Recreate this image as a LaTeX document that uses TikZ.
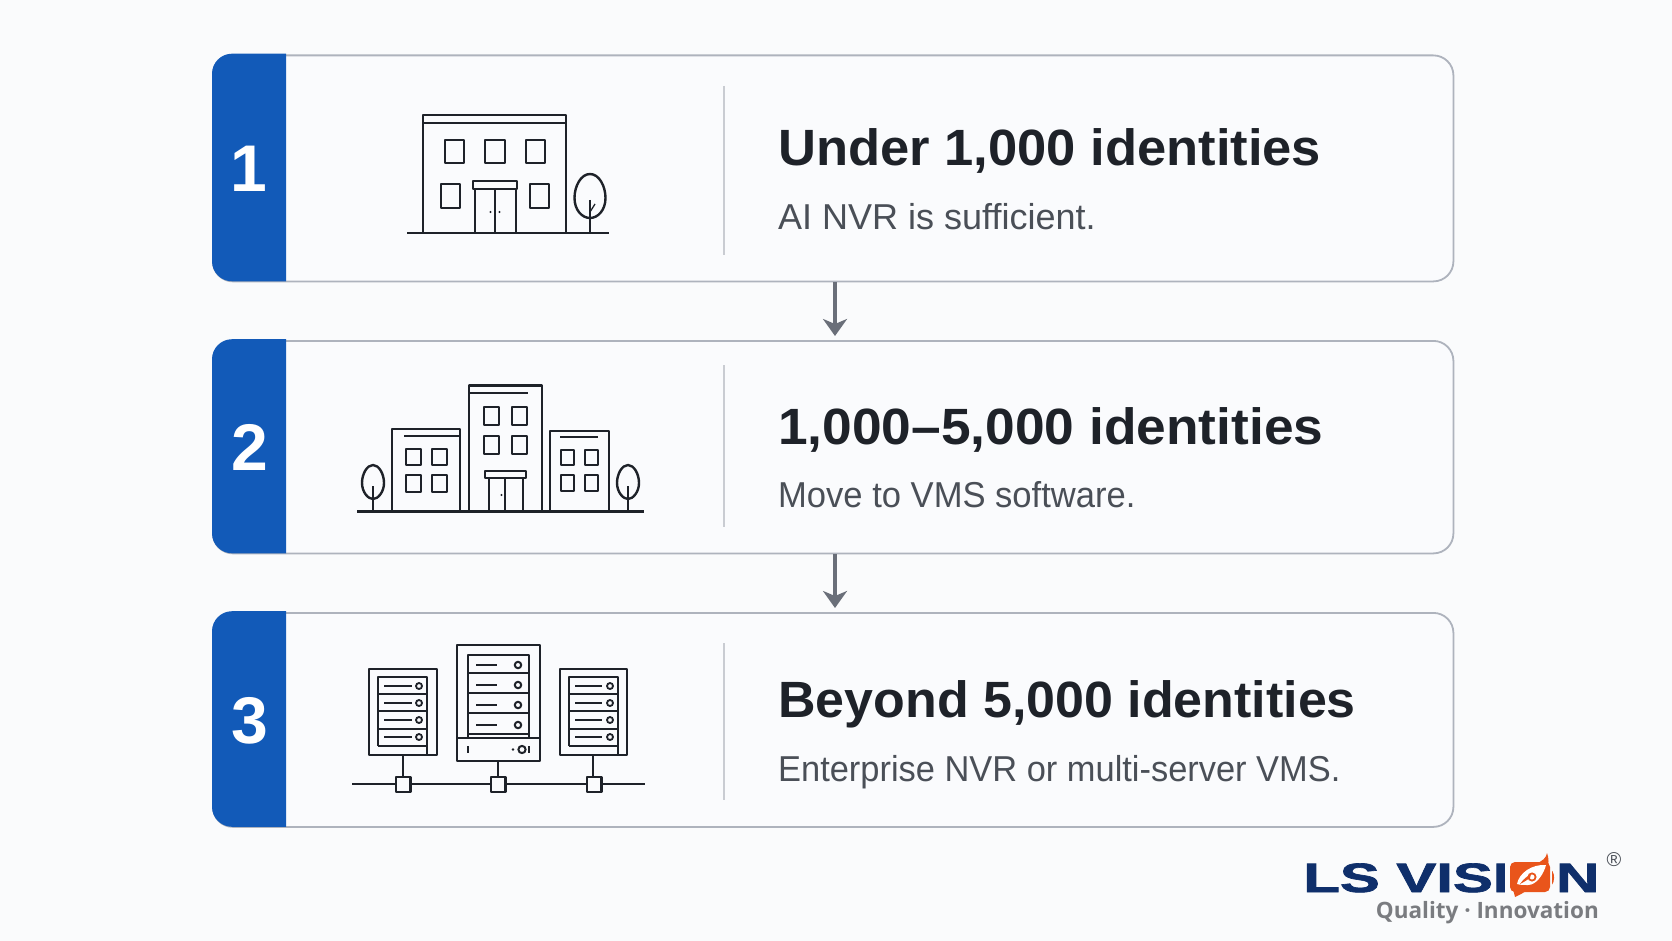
\documentclass[tikz,border=0pt]{standalone}
\usepackage{fontspec}
\setmainfont{Liberation Sans}
\newfontfamily\logofont[BoldFeatures={FakeBold=1.6}]{Liberation Sans}
\newfontfamily\tagfont{Open Sans}
\usetikzlibrary{arrows.meta,calc}
\definecolor{bgc}{HTML}{FAFBFC}
\definecolor{cardc}{HTML}{FAFBFD}
\definecolor{edgec}{HTML}{AEB3BD}
\definecolor{bluec}{HTML}{125AB8}
\definecolor{inkc}{HTML}{1E2229}
\definecolor{subc}{HTML}{4A4F57}
\definecolor{divc}{HTML}{C9CCD2}
\definecolor{arrowc}{HTML}{6A6F79}
\definecolor{navyc}{HTML}{0F2F6B}
\definecolor{orangec}{HTML}{E9551B}
\definecolor{greyc}{HTML}{7A7C80}
\tikzset{
  x=1pt,y=-1pt,
  card/.style={draw=edgec,line width=1.8pt,fill=cardc,rounded corners=20pt,minimum width=1240.5pt,inner sep=0pt,anchor=north west},
  strip/.style={fill=bluec},
  numtxt/.style={text=white,font=\fontsize{66}{66}\selectfont\bfseries,anchor=base,inner sep=0pt},
  title/.style={text=inkc,font=\fontsize{51}{51}\selectfont\bfseries,anchor=base west,inner sep=0pt},
  subt/.style={text=subc,font=\fontsize{36}{36}\selectfont,anchor=base west,inner sep=0pt},
  flow/.style={draw=arrowc,line width=3.2pt,-{Stealth[length=17pt,width=24pt,inset=5pt]},shorten >=4pt},
  ico/.style={draw=inkc,line width=2.4pt,line join=round},
  thin/.style={draw=inkc,line width=1.3pt},
  dv/.style={draw=divc,line width=1.4pt},
}
\newcommand{\tree}[3]{% cx, top, ground
  \draw[ico] (#1,#2) .. controls ({#1+9},#2) and ({#1+15.5},{#2+12}) .. ({#1+15.5},{#2+24})
     .. controls ({#1+15.5},{#2+36}) and ({#1+8},{#2+44}) .. (#1,{#2+44})
     .. controls ({#1-8},{#2+44}) and ({#1-15.5},{#2+36}) .. ({#1-15.5},{#2+24})
     .. controls ({#1-15.5},{#2+12}) and ({#1-9},#2) .. cycle;
  \draw[ico] (#1,{#2+26}) -- (#1,#3);
}
\newcommand{\smalltree}[3]{%
  \draw[ico] (#1,#2) .. controls ({#1+6},#2) and ({#1+11},{#2+9}) .. ({#1+11},{#2+18})
     .. controls ({#1+11},{#2+27}) and ({#1+5},{#2+34}) .. (#1,{#2+34})
     .. controls ({#1-5},{#2+34}) and ({#1-11},{#2+27}) .. ({#1-11},{#2+18})
     .. controls ({#1-11},{#2+9}) and ({#1-6},#2) .. cycle;
  \draw[ico] (#1,{#2+21}) -- (#1,#3);
}
\newcommand{\srack}[7]{% outer l, outer r, inner l, inner r, dash end, thin end, circle x
  \draw[ico] (#1,669) rectangle (#2,755);
  \draw[ico] (#3,746) -- (#3,677) -- (#4,677) -- (#4,755);
  \draw[ico] (#3,746) -- (#4,746);
  \foreach \yy in {694,711,729} \draw[ico] (#3,\yy) -- (#4,\yy);
  \foreach \yy in {686,703,720,737} {
    \draw[ico] ({#3+6},\yy) -- (#5,\yy);
    \draw[thin] (#5,\yy) -- (#6,\yy);
    \draw[draw=inkc,line width=1.8pt] (#7,\yy) circle (3pt);
  }
}
\begin{document}
\begin{tikzpicture}
\useasboundingbox (0,0) rectangle (1672,941);
\fill[bgc] (0,0) rectangle (1672,941);
% cards
\node[card,minimum height=226pt] (c1) at (212,54.5) {};
\node[card,minimum height=212.5pt] (c2) at (212,340) {};
\node[card,minimum height=214pt] (c3) at (212,612) {};
\foreach \t/\b in {53.7/281.3,339.2/553.3,611.2/826.8}{
  \fill[strip] (286,\t) -- (232,\t) .. controls (221,\t) and (212,\t+9) .. (212,\t+20) -- (212,\b-20)
     .. controls (212,\b-9) and (221,\b) .. (232,\b) -- (286,\b) -- cycle;
}
\node[numtxt] (n1) at (248.5,192) {1};
\node[numtxt] (n2) at (250,470) {2};
\node[numtxt] (n3) at (250,743.5) {3};
% dividers
\draw[dv] (724,86) -- (724,255);
\draw[dv] (724,365) -- (724,527);
\draw[dv] (724,643) -- (724,800);
% text
\node[title,xscale=1.03] (t1) at (778,165.5) {Under 1,000 identities};
\node[subt] (s1) at (778,229.5) {AI NVR is sufficient.};
\node[title,xscale=1.045] (t2) at (778,444) {1,000–5,000 identities};
\node[subt,xscale=0.96] (s2) at (778,507) {Move to VMS software.};
\node[title,xscale=1.019] (t3) at (778,717) {Beyond 5,000 identities};
\node[subt,xscale=0.956] (s3) at (778,781) {Enterprise NVR or multi-server VMS.};
% arrows
\coordinate (ax) at (835,0);
\draw[flow] (ax |- c1.south) -- (ax |- c2.north);
\draw[flow] (ax |- c2.south) -- (ax |- c3.north);
% building 1
\draw[ico] (407,233) -- (609,233);
\draw[ico] (423,233) -- (423,115) -- (566,115) -- (566,233);
\draw[ico] (423,123) -- (566,123);
\draw[ico] (445,140) rectangle (464,163);
\draw[ico] (485,140) rectangle (505,163);
\draw[ico] (526,140) rectangle (545,163);
\draw[ico] (441,184) rectangle (460,208);
\draw[ico] (530,184) rectangle (549,208);
\draw[ico] (473,181) rectangle (517,189);
\draw[ico] (475,233) -- (475,189);
\draw[ico] (516,233) -- (516,189);
\draw[ico] (495,233) -- (495,189);
\fill[inkc] (490.5,212) circle (1.2pt) (499.5,212) circle (1.2pt);
\tree{590}{174}{233}
\draw[thin] (590,212) -- (595,204);
% building 2
\draw[ico] (357,511.5) -- (644,511.5);
\draw[ico] (392,511.5) -- (392,429) -- (460,429) -- (460,511.5);
\draw[ico] (404,436) -- (460,436);
\foreach \xa/\xb in {406/421,432/447} \foreach \ya/\yb in {449/465,475/492}
  \draw[ico] (\xa,\ya) rectangle (\xb,\yb);
\draw[ico] (469,511.5) -- (469,385.5) -- (542,385.5) -- (542,511.5);
\draw[ico] (470,393) -- (528,393);
\foreach \xa/\xb in {484/499,512/527} \foreach \ya/\yb in {407/425,436/454}
  \draw[ico] (\xa,\ya) rectangle (\xb,\yb);
\draw[ico] (485,471) rectangle (526,478);
\draw[ico] (489,511.5) -- (489,478);
\draw[ico] (523,511.5) -- (523,478);
\draw[ico] (505,511.5) -- (505,478);
\fill[inkc] (501.5,495) circle (1.2pt);
\draw[ico] (550,511.5) -- (550,431) -- (609,431) -- (609,511.5);
\draw[ico] (560,437) -- (598,437);
\foreach \xa/\xb in {561/574,585/598} \foreach \ya/\yb in {450/465,475/491}
  \draw[ico] (\xa,\ya) rectangle (\xb,\yb);
\smalltree{373}{465}{511.5}
\smalltree{628}{465}{511.5}
% servers
\draw[ico] (352,784) -- (645,784);
\foreach \xc/\xa in {403/396,498/491,593/587} {
  \draw[ico,fill=cardc] (\xa,777) rectangle (\xa+14.5,792);
}
\draw[ico] (403,755) -- (403,777);
\draw[ico] (498,761) -- (498,777);
\draw[ico] (593,755) -- (593,777);
\srack{369}{437}{378}{427}{402}{412}{419}
\srack{560}{627}{569}{618}{593}{602}{610}
\draw[ico] (457,645) rectangle (540,761);
\draw[ico] (468,738) -- (468,655) -- (529,655) -- (529,738);
\draw[ico] (457,738) -- (540,738);
\foreach \yy in {673,693,713,734} \draw[ico] (468,\yy) -- (529,\yy);
\foreach \yy in {665,685,705,725} {
  \draw[ico] (476,\yy) -- (497,\yy);
  \draw[draw=inkc,line width=2pt] (518,\yy) circle (3.2pt);
}
\draw[ico] (468,746) -- (468,753);
\draw[ico] (529,746) -- (529,753);
\fill[inkc] (513,749.5) circle (1.3pt);
\draw[draw=inkc,line width=2pt] (522,749.5) circle (3.6pt);
% logo
\node[anchor=base west,inner sep=0pt,text=navyc,font=\logofont\fontsize{41}{41}\selectfont\bfseries,xscale=1.46] (logo) at (1303,892) {LS VISI{\color{orangec}O}N};
\fill[bgc] (1505,855) rectangle (1552,899);
\fill[orangec,rounded corners=5pt] (1510,862) rectangle (1550,892);
\fill[orangec] (1535,864) .. controls (1543,861) and (1546,858) .. (1547,853) .. controls (1549,858) and (1549,864) .. (1547,870) -- cycle;
\fill[orangec] (1512,888) -- (1530,888) .. controls (1524,893) and (1519,895) .. (1515,897) .. controls (1515,894) and (1513,891) .. (1512,888) -- cycle;
\fill[white] (1517,884) .. controls (1519,873) and (1532,864) .. (1546,865) .. controls (1544,873) and (1537,885) .. (1528,885) .. controls (1524,885) and (1520,885) .. cycle;
\draw[orangec,line width=1.8pt] (1532,877) circle (3.6pt);
\fill[orangec] (1520,884) .. controls (1524,878) and (1528,876) .. (1531,874) -- (1530,878) .. controls (1527,880) and (1524,882) .. cycle;
\node[anchor=base east,inner sep=0pt,text=greyc,font=\tagfont\fontsize{22.5}{22.5}\selectfont\bfseries] (tag) at (1599,918) {Quality · Innovation};
\node[text=subc,inner sep=0pt,font=\fontsize{20}{20}\selectfont] (reg) at (1614,860) {®};
\end{tikzpicture}
\end{document}
